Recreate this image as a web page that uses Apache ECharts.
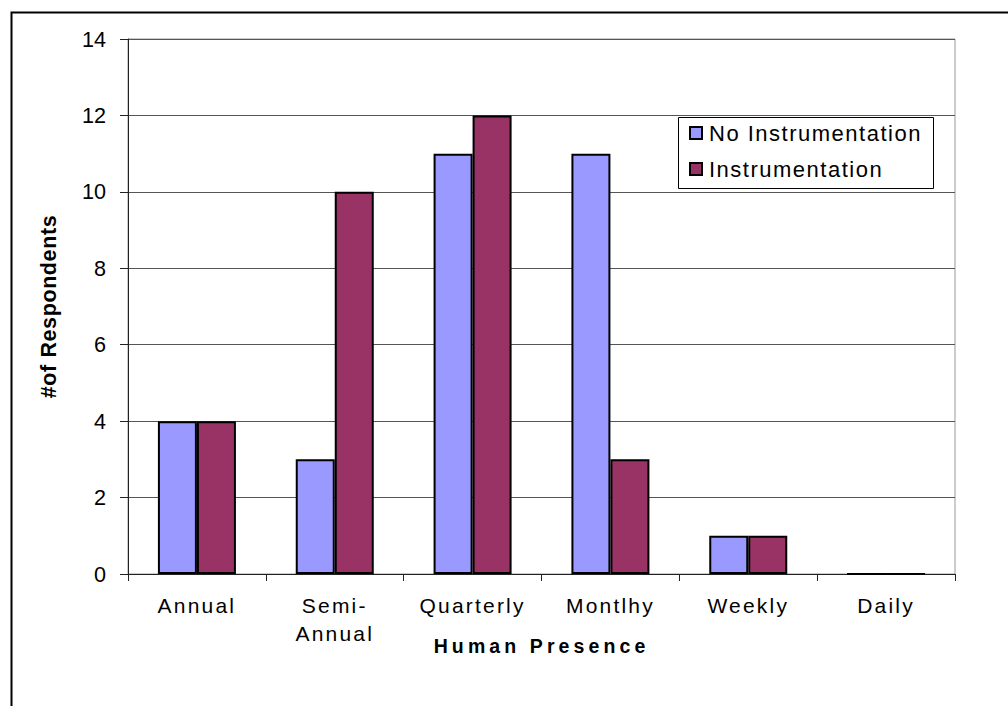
<!DOCTYPE html>
<html>
<head>
<meta charset="utf-8">
<script src="https://cdn.jsdelivr.net/npm/echarts@6/dist/echarts.min.js"></script>
<style>
html,body{margin:0;padding:0;background:#fff}
#c{width:1008px;height:706px}
#c text[style*="21px"]{letter-spacing:2.2px}
#c text[style*="19.5px"]{letter-spacing:4.1px}
#c text[style*="21.5px"]{letter-spacing:0.6px}
#c text[style*="22px"]{letter-spacing:1.5px}
</style>
</head>
<body>
<div id="c"></div>
<script>
const categories = ['Annual', 'Semi-\nAnnual', 'Quarterly', 'Montlhy', 'Weekly', 'Daily'];
const noInstrumentation = [4, 3, 11, 11, 1, 0];
const instrumentation = [4, 10, 12, 3, 1, 0];
const seriesNames = ['No Instrumentation', 'Instrumentation'];
const xTitle = 'Human Presence';
const yTitle = '#of Respondents';

const font = 'Liberation Sans, Arial, sans-serif';
const chart = echarts.init(document.getElementById('c'), null, {renderer: 'svg'});
chart.setOption({
  animation: false,
  backgroundColor: '#fff',
  graphic: [
    {type: 'rect', left: 9, top: 10, z: 100,
     shape: {x: 0, y: 0, width: 1100, height: 800},
     style: {fill: 'none', stroke: '#000', lineWidth: 2}},
    {type: 'rect', left: 678, top: 117, z: 10,
     shape: {x: 0, y: 0, width: 255, height: 71},
     style: {fill: '#fff', stroke: '#000', lineWidth: 1}}
  ],
  grid: {left: 128, right: 53, top: 39, bottom: 132, show: true, borderColor: '#999', borderWidth: 1, backgroundColor: 'transparent'},
  legend: {
    orient: 'vertical', left: 689, top: 122, z: 20,
    padding: 0, itemWidth: 12, itemHeight: 12, itemGap: 14,
    icon: 'rect',
    textStyle: {fontFamily: font, fontSize: 22, color: '#000', padding: [0, 0, 0, 2]},
    data: seriesNames
  },
  xAxis: {
    type: 'category', data: categories,
    name: xTitle, nameLocation: 'middle', nameGap: 62, nameMoveOverlap: false,
    nameTextStyle: {fontFamily: font, fontSize: 19.5, fontWeight: 'bold', color: '#000'},
    axisLine: {lineStyle: {color: '#222', width: 1}},
    axisTick: {show: true, length: 7, lineStyle: {color: '#222'}},
    axisLabel: {fontFamily: font, fontSize: 21, color: '#000', margin: 17, lineHeight: 28, interval: 0}
  },
  yAxis: {
    type: 'value', min: 0, max: 14, interval: 2,
    name: yTitle, nameLocation: 'middle', nameGap: 68,
    nameTextStyle: {fontFamily: font, fontSize: 21.5, fontWeight: 'bold', color: '#000'},
    axisLine: {show: true, lineStyle: {color: '#222', width: 1}},
    axisTick: {show: true, length: 8, lineStyle: {color: '#222'}},
    axisLabel: {fontFamily: font, fontSize: 21.6, color: '#000', margin: 22},
    splitLine: {lineStyle: {color: '#555', width: 1}}
  },
  series: [
    {name: seriesNames[0], type: 'bar', data: noInstrumentation, barWidth: 39, barGap: '0%',
     itemStyle: {color: '#9999FF', borderColor: '#000', borderWidth: 2}},
    {name: seriesNames[1], type: 'bar', data: instrumentation, barWidth: 39, barGap: '0%',
     itemStyle: {color: '#993366', borderColor: '#000', borderWidth: 2}}
  ]
});
</script>
</body>
</html>
